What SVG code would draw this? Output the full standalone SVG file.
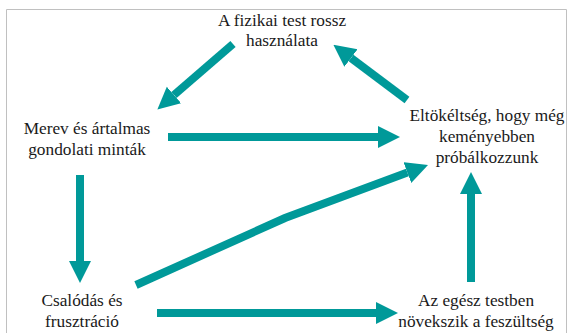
<svg xmlns="http://www.w3.org/2000/svg" width="568" height="333" viewBox="0 0 568 333">
  <style>
    .t { font-family: 'Liberation Serif', 'DejaVu Serif', serif; font-size: 17.3px; fill: #1a1a1a; text-anchor: middle; }
    .a { stroke: #009999; stroke-width: 8; fill: none; marker-end: url(#head); }
  </style>
  <defs>
    <marker id="head" viewBox="0 0 10 10" refX="0" refY="5" markerWidth="2.75" markerHeight="2.9" orient="auto" markerUnits="strokeWidth">
      <path d="M0,0 L10,5 L0,10 z" fill="#009999"/>
    </marker>
  </defs>
  <rect x="0" y="0" width="568" height="333" fill="#ffffff"/>
  <path d="M6.5,340 L6.5,9.5 L566.5,9.5 L566.5,340" fill="none" stroke="#c0c0c0" stroke-width="1"/>

  <g id="connectors">
    <line class="a" x1="233" y1="44" x2="174" y2="95"/>
    <line class="a" x1="407" y1="100" x2="351" y2="58"/>
    <line class="a" x1="168" y1="137" x2="378" y2="137"/>
    <line class="a" x1="80" y1="175" x2="80" y2="261"/>
    <path class="a" d="M136,285 L285,218 L407.4,172.6"/>
    <line class="a" x1="157" y1="313" x2="376" y2="313"/>
    <line class="a" x1="471" y1="282" x2="471" y2="194"/>
  </g>

  <g id="node-top">
    <text class="t" font-family="Liberation Serif, serif" x="282" y="25.5">A fizikai test rossz</text>
    <text class="t" font-family="Liberation Serif, serif" x="282" y="46">használata</text>
  </g>
  <g id="node-left">
    <text class="t" font-family="Liberation Serif, serif" x="87" y="134">Merev és ártalmas</text>
    <text class="t" font-family="Liberation Serif, serif" x="87" y="155">gondolati minták</text>
  </g>
  <g id="node-right">
    <text class="t" font-family="Liberation Serif, serif" x="487" y="121">Eltökéltség, hogy még</text>
    <text class="t" font-family="Liberation Serif, serif" x="487" y="142">keményebben</text>
    <text class="t" font-family="Liberation Serif, serif" x="487" y="163">próbálkozzunk</text>
  </g>
  <g id="node-bottom-left">
    <text class="t" font-family="Liberation Serif, serif" x="82" y="306">Csalódás és</text>
    <text class="t" font-family="Liberation Serif, serif" x="82" y="327">frusztráció</text>
  </g>
  <g id="node-bottom-right">
    <text class="t" font-family="Liberation Serif, serif" x="476" y="306">Az egész testben</text>
    <text class="t" font-family="Liberation Serif, serif" x="476" y="327">növekszik a feszültség</text>
  </g>
</svg>
